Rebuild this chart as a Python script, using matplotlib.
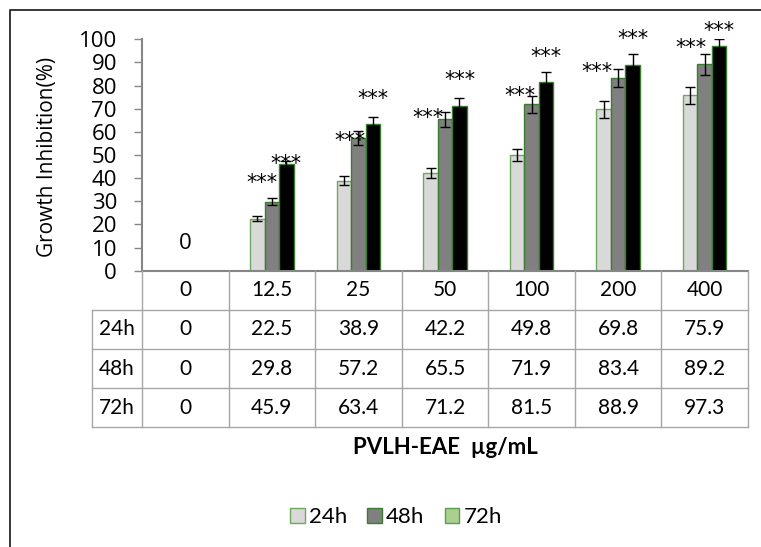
import numpy as np
import matplotlib.pyplot as plt
from matplotlib.patches import Patch
from matplotlib.lines import Line2D

plt.rcParams['font.family'] = ['Lato', 'DejaVu Sans']

doses = ['0', '12.5', '25', '50', '100', '200', '400']
series = ['24h', '48h', '72h']
inh_24h = [0, 22.5, 38.9, 42.2, 49.8, 69.8, 75.9]
inh_48h = [0, 29.8, 57.2, 65.5, 71.9, 83.4, 89.2]
inh_72h = [0, 45.9, 63.4, 71.2, 81.5, 88.9, 97.3]
err_24h = [0, 1.2, 2.0, 2.2, 2.6, 3.6, 3.7]
err_48h = [0, 1.6, 3.0, 3.2, 3.6, 3.9, 4.6]
err_72h = [0, 1.5, 3.2, 3.6, 4.2, 4.7, 2.7]
sig_48h = ['', '***', '***', '***', '***', '***', '***']
sig_72h = ['', '***', '***', '***', '***', '***', '***']

# where the significance marks sit (hand placed)
star_y_48 = [0, 40.1, 58.2, 68.0, 77.6, 88.1, 98.1]
star_dx_48 = [0, -0.12, -0.10, -0.20, -0.13, -0.24, -0.16]
star_y_72 = [0, 48.3, 76.3, 84.5, 94.5, 102.0, 105.6]

W, H = 761, 547
fig = plt.figure(figsize=(W / 100, H / 100), dpi=100)

x0, x1 = 142, 748          # plot area left/right (px)
y_top, y_axis = 39.3, 270.7
tab_left, tab_bottom = 92, 427.3

ax = fig.add_axes([x0 / W, (H - y_axis) / H, (x1 - x0) / W, (y_axis - y_top) / H])

x = np.arange(len(doses))
bw = 0.167
fills = ['#d9d9d9', '#808080', '#000000']
edges = ['#6aaa58', '#3b7d2e', '#3b7d2e']
vals = [inh_24h, inh_48h, inh_72h]
errs = [err_24h, err_48h, err_72h]

for i, (v, e) in enumerate(zip(vals, errs)):
    v = np.array(v, dtype=float)
    e = np.array(e, dtype=float)
    pos = x + (i - 1) * bw
    ax.bar(pos, v, bw, color=fills[i], edgecolor=edges[i], linewidth=1.0, zorder=2)
    m = v > 0
    ax.errorbar(pos[m], v[m], yerr=e[m], fmt='none', ecolor='black',
                elinewidth=1.0, capsize=3.5, capthick=1.0, zorder=3)

star_font = dict(fontsize=15, family=['DejaVu Sans'], ha='center', va='center_baseline',
                 clip_on=False, zorder=4)
for i in range(len(doses)):
    if sig_48h[i]:
        ax.text(x[i] + star_dx_48[i], star_y_48[i] - 1.2, sig_48h[i], **star_font)
    if sig_72h[i]:
        ax.text(x[i] + bw, star_y_72[i] - 1.2, sig_72h[i], **star_font)

ax.text(0, 11.6, '0', ha='center', va='center', fontsize=16, family=['Open Sans', 'DejaVu Sans'])

ax.set_xlim(-0.5, len(doses) - 0.5)
ax.set_ylim(0, 100)
ax.set_yticks(range(0, 101, 10))
ax.set_xticks([])
for lab in ax.get_yticklabels():
    lab.set_family(['Open Sans', 'DejaVu Sans'])
ax.tick_params(axis='y', labelsize=16, length=6, width=1.0, color='#868686', pad=12)
for s in ['top', 'right']:
    ax.spines[s].set_visible(False)
for s in ['left', 'bottom']:
    ax.spines[s].set_color('#868686')
    ax.spines[s].set_linewidth(1.5)
ax.set_ylabel('Growth Inhibition(%)', fontsize=15, family=['Open Sans', 'DejaVu Sans'])
ax.yaxis.set_label_coords(-0.139, 0.49)

# data table under the axis
lab_w = (x0 - tab_left) / ((x1 - x0) / len(doses))
tab = fig.add_axes([tab_left / W, (H - tab_bottom) / H, (x1 - tab_left) / W, (tab_bottom - y_axis) / H])
tab.set_xlim(-0.5 - lab_w, len(doses) - 0.5)
tab.set_ylim(0, 4)
tab.axis('off')
gc, glw = '#a6a6a6', 1.0
for yy in [0, 1, 2, 3]:
    tab.plot([-0.5 - lab_w, len(doses) - 0.5], [yy, yy], color=gc, lw=glw, clip_on=False)
for k in range(len(doses) + 1):
    tab.plot([k - 0.5, k - 0.5], [0, 4], color=gc, lw=glw, clip_on=False)
tab.plot([-0.5 - lab_w] * 2, [0, 3], color=gc, lw=glw, clip_on=False)

for i, d in enumerate(doses):
    tab.text(i, 3.5, d, ha='center', va='center', fontsize=15)
for r, (name, v) in enumerate(zip(series, vals)):
    yy = 2.5 - r
    tab.text(-0.5 - lab_w / 2, yy, name, ha='center', va='center', fontsize=15)
    for i, val in enumerate(v):
        tab.text(i, yy, f'{val:g}', ha='center', va='center', fontsize=15)

fig.text((x0 + x1) / 2 / W, 1 - 448 / H, 'PVLH-EAE  µg/mL', ha='center', va='center',
         fontsize=16, fontweight='bold')

handles = [Patch(facecolor='#d9d9d9', edgecolor='#6aaa58', lw=1.0),
           Patch(facecolor='#808080', edgecolor='#3b7d2e', lw=1.0),
           Patch(facecolor='#a9d08e', edgecolor='#5a9e4b', lw=1.0)]
fig.legend(handles, series, loc='center', bbox_to_anchor=(396 / W, 1 - 517 / H), ncol=3,
           frameon=False, fontsize=16, handlelength=0.65, handleheight=0.65,
           handletextpad=0.2, columnspacing=0.9)

# chart border (only top and left edges fall inside the image)
fig.add_artist(Line2D([10 / W, 10 / W, 1], [0, 1 - 10 / H, 1 - 10 / H],
                      color='#262626', lw=1.3, transform=fig.transFigure))

fig.savefig('out.png', dpi=100)
